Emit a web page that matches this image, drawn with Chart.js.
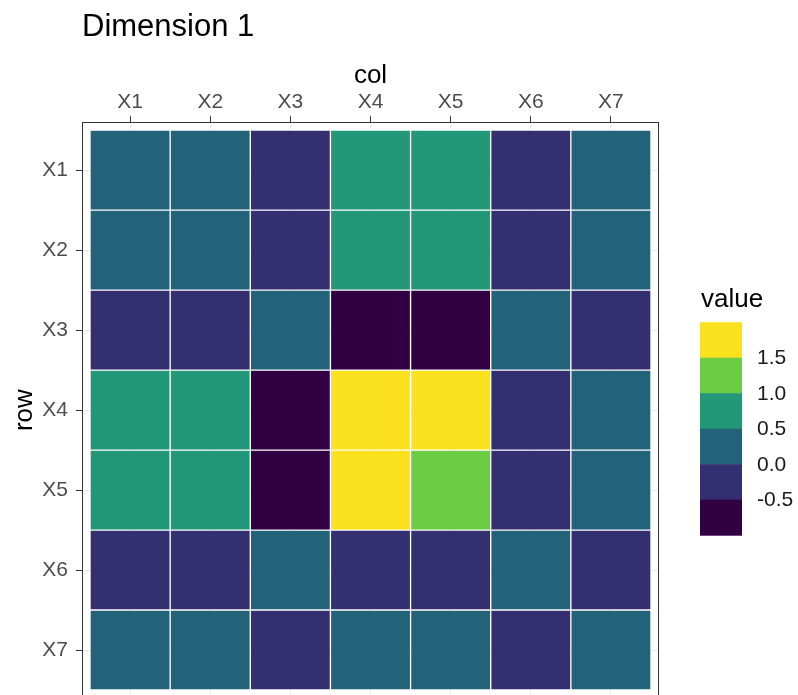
<!DOCTYPE html>
<html><head><meta charset="utf-8">
<script src="https://cdn.jsdelivr.net/npm/chart.js@4.4.1/dist/chart.umd.min.js"></script>
<style>html,body{margin:0;padding:0;background:#fff;overflow:hidden;} #wrap{width:798px;height:705px;}</style>
</head><body><div id="wrap"><canvas id="c" width="798" height="705"></canvas></div>
<script>
// ---- data ----
const colLabels = ['X1', 'X2', 'X3', 'X4', 'X5', 'X6', 'X7'];
const rowLabels = ['X1', 'X2', 'X3', 'X4', 'X5', 'X6', 'X7'];
const rowX1 = [0.32, 0.28, -0.18, 0.71, 0.66, -0.21, 0.30];
const rowX2 = [0.28, 0.35, -0.15, 0.68, 0.74, -0.24, 0.27];
const rowX3 = [-0.18, -0.15, 0.22, -0.68, -0.72, 0.19, -0.26];
const rowX4 = [0.71, 0.68, -0.68, 1.78, 1.62, -0.12, 0.34];
const rowX5 = [0.66, 0.74, -0.72, 1.62, 1.41, -0.09, 0.31];
const rowX6 = [-0.21, -0.24, 0.19, -0.12, -0.09, 0.24, -0.17];
const rowX7 = [0.30, 0.27, -0.26, 0.34, 0.31, -0.17, 0.29];
const values = [rowX1, rowX2, rowX3, rowX4, rowX5, rowX6, rowX7];
const binBreaks = [-0.5, 0, 0.5, 1.0, 1.5];
const legendLabels = ['-0.5', '0.0', '0.5', '1.0', '1.5'];
const binColors = ['#300043', '#342f70', '#22637a', '#229878', '#6ccd45', '#fce21e'];

const FONT = "'Liberation Sans', Arial, Helvetica, sans-serif";
function binColor(v) { let i = 0; while (i < binBreaks.length && v >= binBreaks[i]) i++; return binColors[i]; }

const datasets = rowLabels.map((r, i) => ({
  label: r,
  data: colLabels.map((c, j) => ({ x: j + 1, y: [i + 0.5, i + 1.5] })),
  backgroundColor: values[i].map(binColor),
  borderColor: 'rgba(255,255,255,0.27)',
  borderWidth: 1,
  borderSkipped: false,
  grouped: false,
  barPercentage: 1,
  categoryPercentage: 1
}));

const panelBorder = {
  id: 'panelBorder',
  afterDatasetsDraw(chart) {
    const { ctx, chartArea: a } = chart;
    ctx.save();
    ctx.strokeStyle = '#333333';
    ctx.lineWidth = 1;
    ctx.strokeRect(Math.round(a.left) + 0.5, Math.round(a.top) + 0.5, Math.round(a.right - a.left) - 1, Math.round(a.bottom - a.top));
    ctx.restore();
  }
};

const binLegend = {
  id: 'binLegend',
  afterDraw(chart) {
    const { ctx, chartArea: a } = chart;
    const x0 = a.right + 41, w = 42, binH = 35.5;
    const n = binColors.length;
    const top = a.top + 200;
    ctx.save();
    ctx.fillStyle = '#000';
    ctx.font = '26px ' + FONT;
    ctx.textAlign = 'left';
    ctx.textBaseline = 'alphabetic';
    ctx.fillText('value', x0 + 1, top - 15);
    for (let k = 0; k < n; k++) {
      ctx.fillStyle = binColors[n - 1 - k];
      ctx.fillRect(x0, top + k * binH, w, binH + 0.5);
    }
    ctx.fillStyle = '#1a1a1a';
    ctx.font = '21px ' + FONT;
    ctx.textBaseline = 'middle';
    for (let k = 0; k < legendLabels.length; k++) {
      const y = top + (n - 1 - k) * binH;
      ctx.fillText(legendLabels[k], x0 + 57, y + 1);
    }
    ctx.restore();
  }
};

new Chart(document.getElementById('c'), {
  type: 'bar',
  data: { datasets },
  plugins: [panelBorder, binLegend],
  options: {
    responsive: false,
    animation: false,
    layout: { autoPadding: false, padding: { left: 0, right: 139, top: 0, bottom: 7 } },
    plugins: {
      legend: { display: false },
      tooltip: { enabled: false },
      title: {
        display: true, text: 'Dimension 1', align: 'start', fullSize: false,
        color: '#000', font: { family: FONT, size: 31, weight: 'normal', lineHeight: 1.2 },
        padding: { top: 9, bottom: 0 }
      }
    },
    scales: {
      x: {
        type: 'linear', position: 'top', min: 0.4, max: 7.6, offset: false,
        afterBuildTicks: s => { s.ticks = colLabels.map((_, j) => ({ value: j + 1 })); },
        afterFit: s => { s.height = 76; s.paddingLeft = 0; s.paddingRight = 0; },
        ticks: { callback: v => colLabels[Math.round(v) - 1], color: '#4d4d4d', font: { family: FONT, size: 21 }, padding: 1, maxRotation: 0, autoSkip: false },
        grid: { offset: false, color: '#ebebeb', lineWidth: 1, tickColor: '#333333', tickLength: 6, drawOnChartArea: true },
        border: { display: false },
        title: { display: true, text: 'col', color: '#000', font: { family: FONT, size: 26 }, padding: { top: 14, bottom: 0 } }
      },
      y: {
        type: 'linear', reverse: true, min: 0.4, max: 7.6, offset: false,
        afterBuildTicks: s => { s.ticks = rowLabels.map((_, i) => ({ value: i + 1 })); },
        afterFit: s => { s.width = 82; s.paddingTop = 0; s.paddingBottom = 0; },
        ticks: { callback: v => rowLabels[Math.round(v) - 1], color: '#4d4d4d', font: { family: FONT, size: 21 }, padding: 8, autoSkip: false },
        grid: { offset: false, color: '#ebebeb', lineWidth: 1, tickColor: '#333333', tickLength: 6, drawOnChartArea: true },
        border: { display: false },
        title: { display: true, text: 'row', color: '#000', font: { family: FONT, size: 26 }, padding: { top: 9, bottom: 0 } }
      }
    }
  }
});
</script>
</body></html>
